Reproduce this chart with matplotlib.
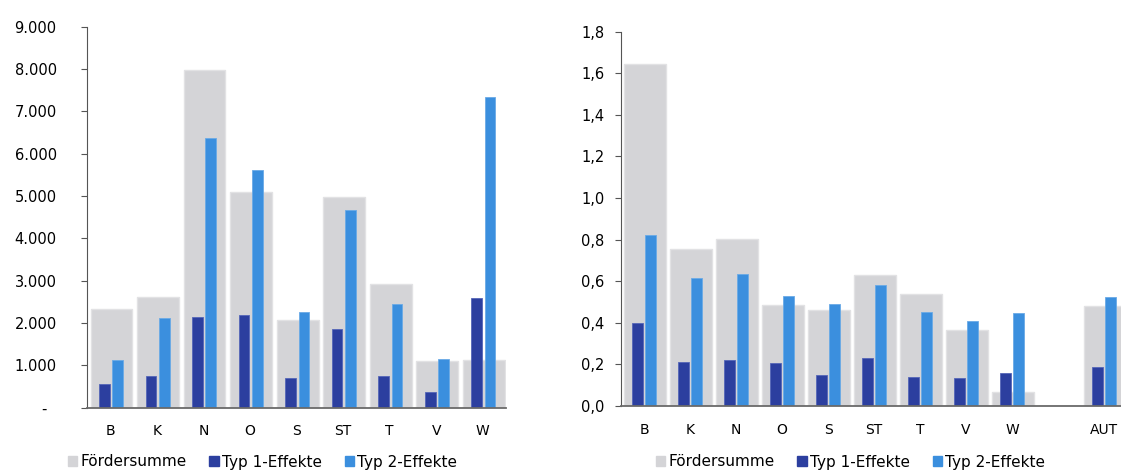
import numpy as np
import matplotlib
matplotlib.use("Agg")
import matplotlib.pyplot as plt
from matplotlib.patches import Patch

plt.rcParams['font.family'] = ['DejaVu Sans']

# left chart: absolute values
regions = ['B', 'K', 'N', 'O', 'S', 'ST', 'T', 'V', 'W']
foerder_abs = [2340, 2620, 7970, 5100, 2060, 4980, 2930, 1100, 1130]
typ1_abs = [570, 740, 2140, 2200, 690, 1870, 760, 370, 2580]
typ2_abs = [1130, 2130, 6360, 5610, 2260, 4670, 2460, 1160, 7340]
left_ticks = [0, 1000, 2000, 3000, 4000, 5000, 6000, 7000, 8000, 9000]
left_ticklabels = ['-  ', '1.000', '2.000', '3.000', '4.000', '5.000',
                   '6.000', '7.000', '8.000', '9.000']

# right chart: relative values, incl. a gap before AUT
regions_rel = ['B', 'K', 'N', 'O', 'S', 'ST', 'T', 'V', 'W', '', 'AUT']
foerder_rel = [1.645, 0.755, 0.805, 0.485, 0.462, 0.63, 0.538, 0.365, 0.068, 0, 0.48]
typ1_rel = [0.40, 0.213, 0.221, 0.205, 0.149, 0.229, 0.141, 0.133, 0.157, 0, 0.189]
typ2_rel = [0.822, 0.614, 0.635, 0.529, 0.49, 0.582, 0.454, 0.41, 0.446, 0, 0.526]
right_ticks = [0.0, 0.2, 0.4, 0.6, 0.8, 1.0, 1.2, 1.4, 1.6, 1.8]
right_ticklabels = ['0,0', '0,2', '0,4', '0,6', '0,8', '1,0', '1,2', '1,4', '1,6', '1,8']

GRAY = '#d4d4d7'
DARK = '#2c3f9f'
LIGHT = '#3b8fde'
W, H = 1121, 476

fig = plt.figure(figsize=(W / 100, H / 100), dpi=100)

ax1 = fig.add_axes([87.3 / W, (H - 407.7) / H, 418.7 / W, 381 / H])
ax2 = fig.add_axes([621 / W, (H - 406) / H, 506 / W, 374.3 / H])


def draw(ax, cats, gray, d1, d2, off1, off2):
    x = np.arange(len(cats))
    ax.bar(x + 0.02, gray, width=0.9, color=GRAY, edgecolor='#e2e2e4', linewidth=1.0, zorder=1)
    ax.bar(x + off1, d1, width=0.23, color=DARK, edgecolor='#5566b8', linewidth=0.6, zorder=2)
    ax.bar(x + off2, d2, width=0.23, color=LIGHT, edgecolor='#6aaae6', linewidth=0.6, zorder=2)
    ax.set_xlim(-0.5, len(cats) - 0.5)
    ax.set_xticks(x)
    ax.set_xticklabels(cats, fontsize=10)
    ax.tick_params(axis='x', length=0, pad=12)
    for s in ['top', 'right']:
        ax.spines[s].set_visible(False)
    ax.spines['left'].set_color('#555555')
    ax.spines['bottom'].set_color('#6a6a6a')
    ax.spines['bottom'].set_linewidth(1.3)
    ax.spines['bottom'].set_zorder(3)


draw(ax1, regions, foerder_abs, typ1_abs, typ2_abs, -0.13, 0.155)
ax1.set_ylim(0, 9000)
ax1.set_yticks(left_ticks)
ax1.set_yticklabels(left_ticklabels, fontsize=10.5)
ax1.tick_params(axis='y', length=4, pad=18, color='#555555')

draw(ax2, regions_rel, foerder_rel, typ1_rel, typ2_rel, -0.14, 0.145)
ax2.set_ylim(0, 1.8)
ax2.set_yticks(right_ticks)
ax2.set_yticklabels(right_ticklabels, fontsize=10.5)
ax2.tick_params(axis='y', length=4, pad=8, color='#555555')

handles = [Patch(color=GRAY), Patch(color=DARK), Patch(color=LIGHT)]
labels = ['Fördersumme', 'Typ 1-Effekte', 'Typ 2-Effekte']
for x0 in [68 / W, 656 / W]:
    fig.legend(handles, labels, loc='center left', bbox_to_anchor=(x0, 14 / H),
               ncol=3, frameon=False, fontsize=11, borderpad=0, borderaxespad=0,
               handlelength=0.6, handleheight=0.6, handletextpad=0.2,
               columnspacing=1.5)

fig.savefig('out.png', dpi=100)
